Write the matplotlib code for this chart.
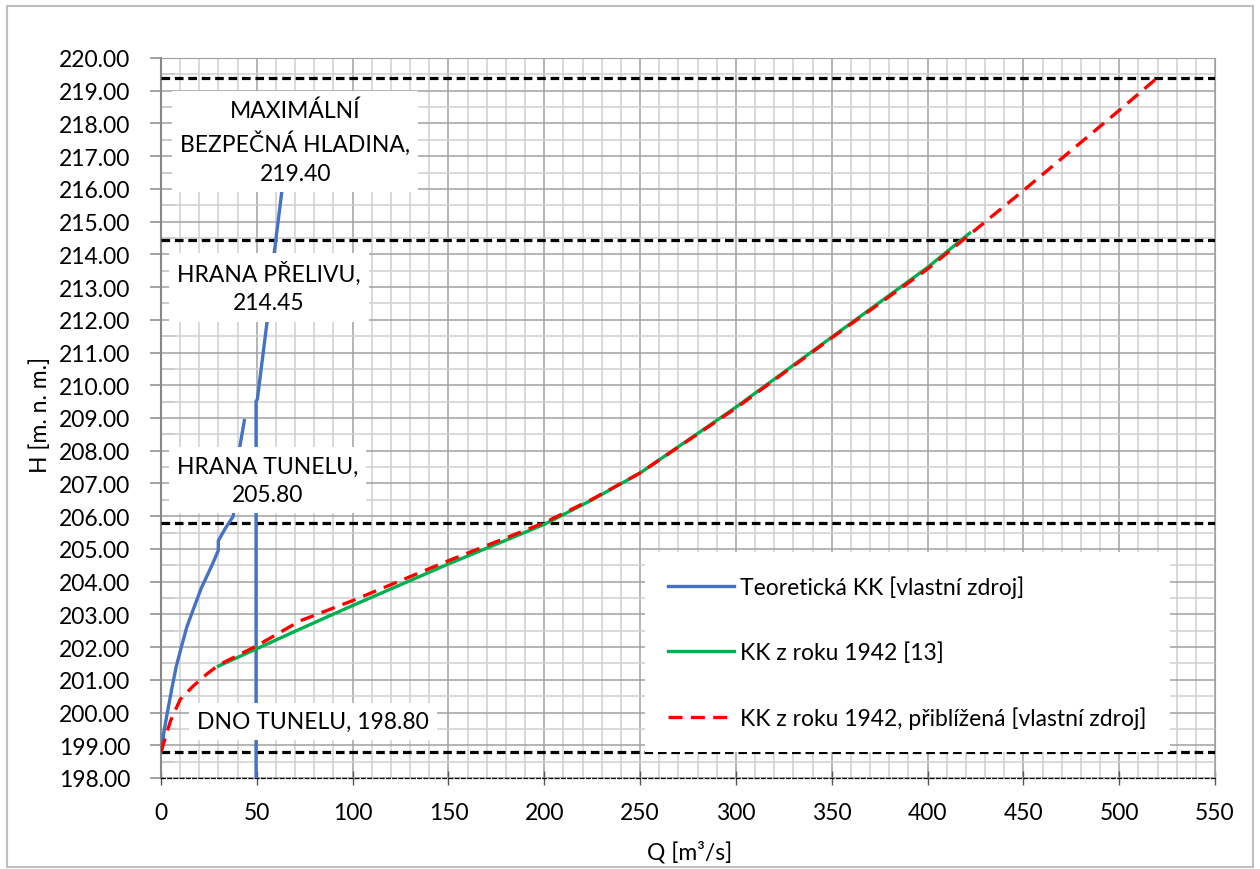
# Konsumpční křivka (Q-H) - rekonstrukce grafu
import numpy as np
import matplotlib
matplotlib.use('Agg')
import matplotlib.pyplot as plt
from matplotlib.patches import Rectangle
from matplotlib.ticker import MultipleLocator, FormatStrFormatter

plt.rcParams['font.family'] = ['Lato', 'DejaVu Sans']

# teoreticka KK (NaN = prerusena cara)
q_teor = [0.0, 0.4, 1.5, 3.0, 5.6, 8.0, 10.8, 13.5, 16.9, 21.0, 26.5, 29.9, 29.9, 33.5, 37.7, 41.2, 43.5,
          np.nan, 49.6, 49.6, 50.3, 55.2, 59.2, 63.0, 68.0]
h_teor = [198.80, 198.89, 199.40, 199.90, 200.72, 201.42, 202.04, 202.62, 203.16, 203.80, 204.49, 204.95,
          205.25, 205.62, 206.00, 208.15, 208.92,
          np.nan, 198.00, 209.50, 209.58, 211.87, 214.10, 215.90, 218.90]

# KK z roku 1942
q_1942 = [30, 50, 72.5, 100, 150, 200, 225, 250, 300, 350, 400, 422]
h_1942 = [201.42, 201.95, 202.55, 203.27, 204.54, 205.75, 206.50, 207.32, 209.33, 211.47, 213.60, 214.65]

# KK z roku 1942, priblizena
q_pribl = [0, 5, 10, 17, 24, 30, 50, 72.5, 100, 150, 200, 225, 250, 300, 350, 400, 450, 500, 520]
h_pribl = [198.80, 199.75, 200.40, 200.82, 201.18, 201.45, 202.04, 202.80, 203.42, 204.64, 205.80,
           206.52, 207.32, 209.30, 211.45, 213.55, 215.95, 218.40, 219.40]

# vyznamne hladiny
hladiny = [219.40, 214.45, 205.80, 198.80]
popisky = ['MAXIMÁLNÍ\nBEZPEČNÁ HLADINA,', 'HRANA PŘELIVU,', 'HRANA TUNELU,', 'DNO TUNELU,']
popisky_oddel = ['\n', '\n', '\n', ' ']
popisky_pos = [(70, 217.45), (56.4, 213.0), (55.5, 207.1), (79.5, 199.74)]

fig = plt.figure(figsize=(12.6, 8.7), dpi=100)
ax = fig.add_axes([161 / 1260, 1 - 779 / 870, 1054 / 1260, 720 / 870])

fs = 16.5

# mrizka
ax.set_xlim(0, 550)
ax.set_ylim(198, 220)
ax.xaxis.set_major_locator(MultipleLocator(50))
ax.xaxis.set_minor_locator(MultipleLocator(10))
ax.yaxis.set_major_locator(MultipleLocator(1))
ax.yaxis.set_minor_locator(MultipleLocator(0.5))
ax.yaxis.set_major_formatter(FormatStrFormatter('%.2f'))
ax.grid(which='major', color='#a0a0a0', lw=1.1, zorder=0)
ax.grid(which='minor', color='#d0d0d0', lw=1.1, zorder=0)
ax.set_axisbelow(True)

ax.tick_params(axis='x', which='major', direction='inout', length=10, width=1,
               color='#555555', labelsize=fs, pad=12)
ax.tick_params(axis='x', which='minor', length=0)
ax.tick_params(axis='y', which='major', direction='out', length=8, width=1.1,
               color='#888888', labelsize=fs, pad=14)
ax.tick_params(axis='y', which='minor', direction='in', length=10, width=1.1, color='#c8c8c8')

for s in ['top', 'right']:
    ax.spines[s].set_color('#a0a0a0')
ax.spines['left'].set_color('#888888')
ax.spines['left'].set_linewidth(1.5)
ax.spines['bottom'].set_color('black')
ax.spines['bottom'].set_linewidth(0.9)
ax.spines['bottom'].set_linestyle((0, (3, 2)))

# vyznamne hladiny
for h in hladiny:
    ax.axhline(h, color='black', lw=2.3, dashes=(2.7, 1.5), zorder=3)

ax.plot(q_teor, h_teor, color='#4472C4', lw=2.4, label='Teoretická KK [vlastní zdroj]', zorder=4)
ax.plot(q_1942, h_1942, color='#00B050', lw=2.4, label='KK z roku 1942 [13]', zorder=4)
ax.plot(q_pribl, h_pribl, color='#FF0000', lw=2.4, dashes=(4.2, 2.5),
        label='KK z roku 1942, přiblížená [vlastní zdroj]', zorder=5)

for h, txt, sep, (qx, hy) in zip(hladiny, popisky, popisky_oddel, popisky_pos):
    ax.text(qx, hy, f'{txt}{sep}{h:.2f}', ha='center', va='center', fontsize=fs,
            linespacing=1.45, zorder=6,
            bbox=dict(boxstyle='square,pad=0.35', fc='white', ec='none'))

leg = ax.legend(loc='upper left', bbox_to_anchor=(645 / 1260, 1 - 553 / 870),
                bbox_transform=fig.transFigure, fontsize=fs, frameon=True,
                fancybox=False, edgecolor='none', framealpha=1, borderpad=1.0,
                labelspacing=1.9, handlelength=2.9, handletextpad=0.25, borderaxespad=0)
leg.set_zorder(7)

fig.text(40 / 1260, 1 - 415 / 870, 'H [m. n. m.]', rotation=90, ha='center', va='center', fontsize=fs)
fig.text(690 / 1260, 1 - 852 / 870, 'Q [m³/s]', ha='center', va='center', fontsize=fs)

fig.patches.append(Rectangle((7 / 1260, 2 / 870), 1246 / 1260, 861 / 870, transform=fig.transFigure,
                             fill=False, ec='#bfbfbf', lw=1.5))

fig.savefig('out.png', dpi=100)
